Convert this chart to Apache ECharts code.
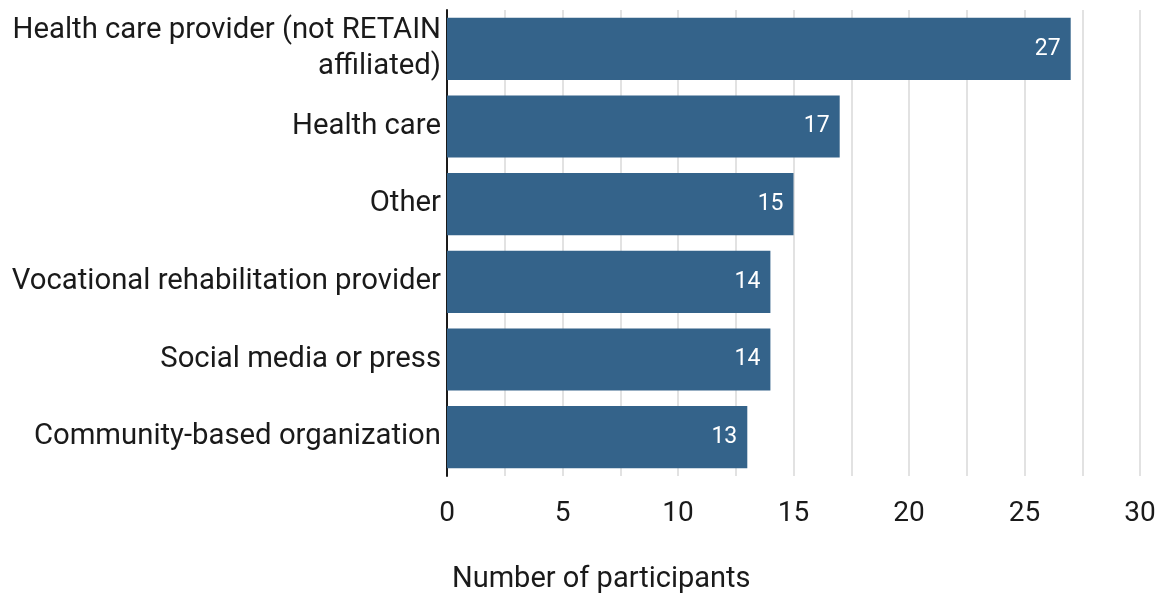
<!DOCTYPE html>
<html>
<head>
<meta charset="utf-8">
<script src="https://cdn.jsdelivr.net/npm/echarts@6/dist/echarts.min.js"></script>
<style>
  html, body { margin: 0; padding: 0; background: #ffffff; }
  #chart { width: 1160px; height: 595px; }
</style>
</head>
<body>
<div id="chart"></div>
<script>
// Referral sources, listed top to bottom
const categories = [
  'Health care provider (not RETAIN\naffiliated)',
  'Health care',
  'Other',
  'Vocational rehabilitation provider',
  'Social media or press',
  'Community-based organization'
];
const participants = [27, 17, 15, 14, 14, 13];
const tickLabels = ['0', '5', '10', '15', '20', '25', '30'];
const axisTitle = 'Number of participants';

const chart = echarts.init(document.getElementById('chart'), null, { renderer: 'canvas' });

const font = 'Roboto, "Noto Sans", sans-serif';

chart.setOption({
  animation: false,
  backgroundColor: '#ffffff',
  title: {
    text: axisTitle,
    left: 452,
    top: 565,
    padding: 0,
    textStyle: { fontFamily: font, fontSize: 29, fontWeight: 'normal', color: '#1a1a1a' }
  },
  grid: { left: 447, right: 20, top: 10, bottom: 119, containLabel: false },
  xAxis: {
    type: 'value',
    min: 0,
    max: 30,
    interval: 2.5,
    axisLine: { show: false },
    axisTick: { show: false },
    splitLine: { show: true, lineStyle: { color: '#d9d9d9', width: 1.5 } },
    axisLabel: {
      margin: 24,
      fontFamily: font,
      fontSize: 28,
      color: '#1a1a1a',
      formatter: function (v) {
        const i = tickLabels.indexOf(String(v));
        return i >= 0 ? tickLabels[i] : '';
      }
    }
  },
  yAxis: {
    type: 'category',
    data: categories,
    inverse: true,
    axisLine: { show: true, lineStyle: { color: '#1a1a1a', width: 2 } },
    axisTick: { show: false },
    axisLabel: {
      margin: 6,
      fontFamily: font,
      fontSize: 29.3,
      lineHeight: 36,
      padding: [5, 0, 0, 0],
      color: '#1a1a1a',
      align: 'right'
    }
  },
  series: [{
    type: 'bar',
    data: participants,
    barCategoryGap: '20%',
    itemStyle: { color: '#34638a' },
    label: {
      show: true,
      position: 'insideRight',
      distance: 10,
      padding: [4, 0, 0, 0],
      fontFamily: font,
      fontSize: 23,
      color: '#ffffff'
    }
  }]
});
</script>
</body>
</html>
